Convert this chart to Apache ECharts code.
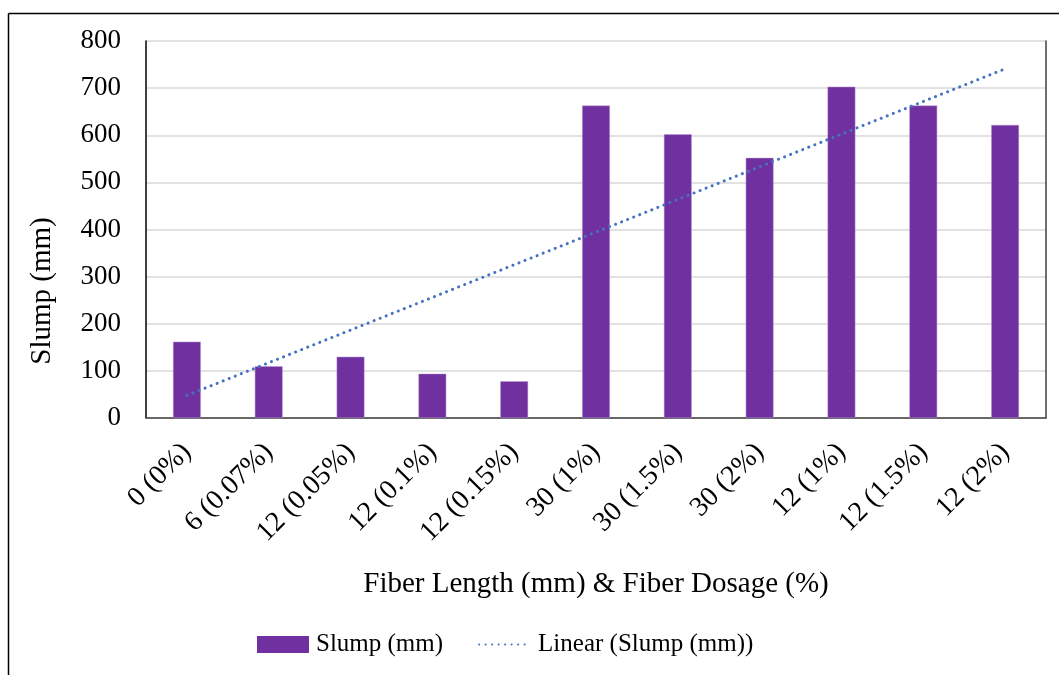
<!DOCTYPE html>
<html>
<head>
<meta charset="utf-8">
<script src="https://cdn.jsdelivr.net/npm/echarts@6/dist/echarts.min.js"></script>
<style>html,body{margin:0;padding:0;background:#fff;}#chart{width:1059px;height:675px;}</style>
</head>
<body>
<div id="chart"></div>
<script>
const categories = ['0 (0%)', '6 (0.07%)', '12 (0.05%)', '12 (0.1%)', '12 (0.15%)', '30 (1%)', '30 (1.5%)', '30 (2%)', '12 (1%)', '12 (1.5%)', '12 (2%)'];
const slump = [162, 110, 130, 94, 78, 663, 602, 552, 703, 663, 622];
// Linear trendline end values (first and last category)
const trendEnds = [48, 741];
const yTicks = [0, 100, 200, 300, 400, 500, 600, 700, 800];
const yTitle = 'Slump (mm)';
const xTitle = 'Fiber Length (mm) & Fiber Dosage (%)';

const trendData = categories.map((c, i) => i === 0 ? trendEnds[0] : (i === categories.length - 1 ? trendEnds[1] : null));
const FONT = '"Liberation Serif", "Times New Roman", serif';

const chart = echarts.init(document.getElementById('chart'), null, {renderer: 'canvas'});
chart.setOption({
  animation: false,
  backgroundColor: '#fff',
  textStyle: {fontFamily: FONT, color: '#000'},
  grid: {left: 146, right: 13, top: 41, bottom: 257, containLabel: false},
  graphic: [
    {type: 'line', shape: {x1: 8.5, y1: 13.5, x2: 1059, y2: 13.5}, style: {stroke: '#000', lineWidth: 1.5}},
    {type: 'line', shape: {x1: 8.5, y1: 13.5, x2: 8.5, y2: 675}, style: {stroke: '#000', lineWidth: 1.5}},
    {type: 'text', x: 42, y: 291, rotation: Math.PI / 2,
      style: {text: yTitle, font: '29px ' + FONT, fill: '#000', align: 'center', verticalAlign: 'middle'}}
  ],
  legend: {
    bottom: 13,
    left: 252,
    itemGap: 35,
    itemWidth: 52,
    itemHeight: 17,
    textStyle: {fontFamily: FONT, fontSize: 25, color: '#000', padding: [0, 0, 0, 2]},
    data: [
      {name: 'Slump (mm)', icon: 'rect', itemStyle: {borderWidth: 0}},
      {name: 'Linear (Slump (mm))', itemStyle: {opacity: 0}}
    ]
  },
  xAxis: [{
    type: 'category',
    data: categories,
    name: xTitle,
    nameLocation: 'middle',
    nameGap: 152,
    nameTextStyle: {fontFamily: FONT, fontSize: 29, color: '#000'},
    axisLine: {show: true, lineStyle: {color: '#d9d9d9', width: 1}},
    axisTick: {show: false},
    axisLabel: {rotate: 45, fontFamily: FONT, fontSize: 28, color: '#000', margin: 30, interval: 0}
  }, {
    type: 'category',
    data: categories,
    position: 'top',
    axisLine: {show: true, lineStyle: {color: '#404040', width: 1.5}},
    axisTick: {show: false},
    axisLabel: {show: false}
  }],
  yAxis: [{
    type: 'value',
    min: yTicks[0],
    max: yTicks[yTicks.length - 1],
    interval: 100,
    axisLine: {show: true, lineStyle: {color: '#000', width: 1.5}},
    axisTick: {show: false},
    axisLabel: {fontFamily: FONT, fontSize: 27, color: '#000', margin: 25},
    splitLine: {show: true, lineStyle: {color: '#d9d9d9', width: 1.5}}
  }, {
    type: 'value',
    min: yTicks[0],
    max: yTicks[yTicks.length - 1],
    interval: 100,
    position: 'right',
    axisLine: {show: true, lineStyle: {color: '#404040', width: 1.5}},
    axisTick: {show: false},
    axisLabel: {show: false},
    splitLine: {show: false}
  }],
  series: [{
    name: 'Slump (mm)',
    type: 'bar',
    data: slump,
    barWidth: '34%',
    itemStyle: {color: '#7030A0', borderColor: '#b89ad0', borderWidth: 0.5}
  }, {
    name: 'Linear (Slump (mm))',
    type: 'line',
    data: trendData,
    connectNulls: true,
    symbol: 'none',
    itemStyle: {color: '#4472C4'},
    lineStyle: {color: '#4472C4', width: 3, type: [0.1, 6.4], cap: 'round'},
    z: 5
  }]
});
</script>
</body>
</html>
